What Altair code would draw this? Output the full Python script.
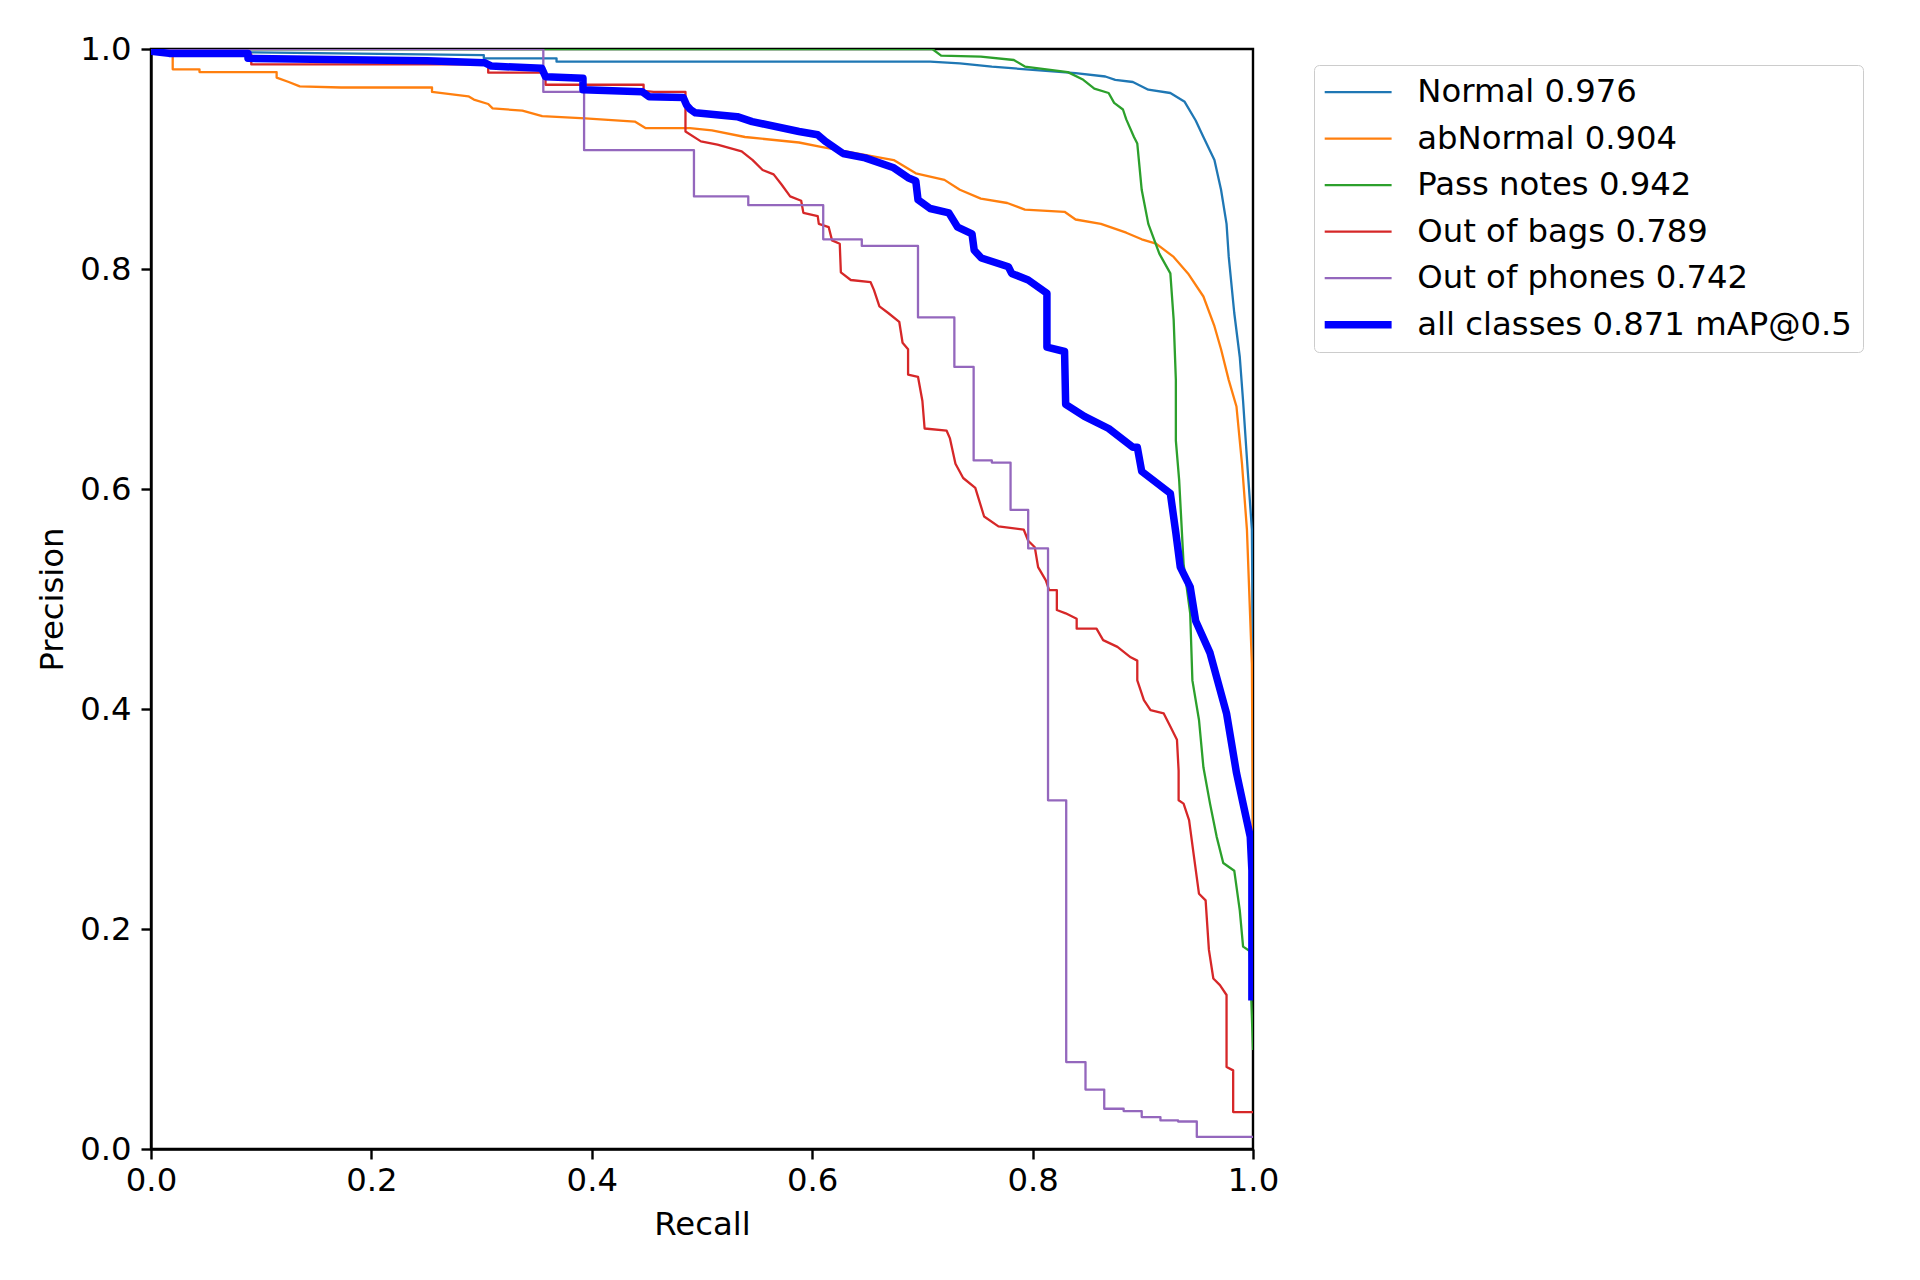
import altair as alt
import pandas as pd

labels = ["Normal 0.976", "abNormal 0.904", "Pass notes 0.942",
          "Out of bags 0.789", "Out of phones 0.742", "all classes 0.871 mAP@0.5"]
colors = ["#1f77b4", "#ff7f0e", "#2ca02c", "#d62728", "#9467bd", "#0000ff"]
x_ticks = [0.0, 0.2, 0.4, 0.6, 0.8, 1.0]
y_ticks = [0.0, 0.2, 0.4, 0.6, 0.8, 1.0]

normal_r = [0, 0.088, 0.302, 0.302, 0.368, 0.368, 0.707, 0.734, 0.763, 0.800, 0.839, 0.866, 0.875, 0.891,
            0.905, 0.925, 0.938, 0.948, 0.955, 0.965, 0.971, 0.976, 0.978, 0.983, 0.988, 0.991, 0.995, 0.999, 1.0]
normal_p = [1.0, 0.997, 0.9945, 0.9915, 0.9915, 0.9885, 0.9885, 0.987, 0.984, 0.981, 0.978, 0.975, 0.972, 0.970,
            0.963, 0.960, 0.952, 0.935, 0.920, 0.899, 0.872, 0.841, 0.811, 0.760, 0.720, 0.68, 0.62, 0.563, 0.43]

abnormal_r = [0, 0.0197, 0.0197, 0.044, 0.044, 0.114, 0.114, 0.125, 0.135, 0.1725,
              0.255, 0.255, 0.288, 0.293, 0.306, 0.310, 0.337, 0.355, 0.394, 0.439,
              0.449, 0.489, 0.509, 0.539, 0.588, 0.608, 0.674, 0.694, 0.720, 0.734,
              0.753, 0.777, 0.793, 0.829, 0.839, 0.862, 0.885, 0.899, 0.912, 0.928,
              0.941, 0.955, 0.965, 0.971, 0.978, 0.985, 0.990, 0.9945, 0.999, 1.0]
abnormal_p = [1.0, 1.0, 0.9815, 0.9815, 0.979, 0.979, 0.974, 0.970, 0.966, 0.965,
              0.965, 0.961, 0.957, 0.954, 0.950, 0.946, 0.944, 0.939, 0.937, 0.934,
              0.928, 0.928, 0.926, 0.920, 0.915, 0.911, 0.899, 0.887, 0.881, 0.872,
              0.864, 0.860, 0.854, 0.852, 0.845, 0.841, 0.833, 0.827, 0.823, 0.811,
              0.796, 0.775, 0.748, 0.727, 0.699, 0.675, 0.623, 0.563, 0.441, 0.27]

pass_r = [0, 0.709, 0.717, 0.753, 0.783, 0.793, 0.832, 0.846, 0.856, 0.869,
          0.874, 0.882, 0.885, 0.892, 0.895, 0.899, 0.905, 0.915, 0.925, 0.928,
          0.930, 0.930, 0.933, 0.937, 0.943, 0.945, 0.951, 0.955, 0.961, 0.967,
          0.973, 0.983, 0.988, 0.991, 0.997, 1.0]
pass_p = [1.0, 1.0, 0.994, 0.993, 0.990, 0.984, 0.979, 0.972, 0.964, 0.960,
          0.951, 0.945, 0.936, 0.920, 0.914, 0.872, 0.841, 0.814, 0.796, 0.754,
          0.699, 0.644, 0.608, 0.532, 0.487, 0.426, 0.390, 0.347, 0.314, 0.284,
          0.260, 0.253, 0.217, 0.184, 0.180, 0.09]

bags_r = [0, 0.091, 0.091, 0.306, 0.306, 0.358, 0.358, 0.447, 0.447, 0.456,
          0.485, 0.485, 0.499, 0.514, 0.536, 0.546, 0.555, 0.565, 0.572, 0.580,
          0.590, 0.592, 0.605, 0.606, 0.615, 0.618, 0.625, 0.626, 0.635, 0.653,
          0.656, 0.661, 0.669, 0.679, 0.682, 0.687, 0.687, 0.696, 0.700, 0.702,
          0.722, 0.725, 0.730, 0.737, 0.748, 0.756, 0.769, 0.792, 0.796, 0.802,
          0.805, 0.812, 0.815, 0.822, 0.822, 0.830, 0.840, 0.840, 0.858, 0.864,
          0.877, 0.889, 0.895, 0.895, 0.901, 0.907, 0.919, 0.925, 0.931, 0.9325,
          0.9325, 0.937, 0.942, 0.946, 0.951, 0.957, 0.960, 0.964, 0.970, 0.976,
          0.976, 0.982, 0.982, 1.0]
bags_p = [1.0, 0.995, 0.986, 0.986, 0.9785, 0.9785, 0.9675, 0.9675, 0.962, 0.961,
          0.961, 0.925, 0.916, 0.913, 0.907, 0.899, 0.890, 0.886, 0.877, 0.866,
          0.862, 0.851, 0.848, 0.841, 0.838, 0.826, 0.823, 0.797, 0.790, 0.788,
          0.781, 0.766, 0.760, 0.752, 0.733, 0.727, 0.704, 0.702, 0.680, 0.655,
          0.653, 0.646, 0.623, 0.610, 0.601, 0.575, 0.566, 0.563, 0.553, 0.547,
          0.529, 0.517, 0.508, 0.508, 0.490, 0.487, 0.482, 0.473, 0.473, 0.4626,
          0.4565, 0.447, 0.444, 0.426, 0.408, 0.399, 0.396, 0.384, 0.372, 0.344,
          0.317, 0.314, 0.299, 0.269, 0.232, 0.226, 0.181, 0.155, 0.149, 0.140,
          0.0745, 0.0715, 0.0336, 0.0336]

phones_r = [0, 0.356, 0.356, 0.393, 0.393, 0.4927, 0.4927, 0.542, 0.542, 0.610,
            0.610, 0.645, 0.645, 0.696, 0.696, 0.729, 0.729, 0.7465, 0.7465, 0.763,
            0.763, 0.780, 0.780, 0.796, 0.796, 0.814, 0.814, 0.8305, 0.8305, 0.848,
            0.848, 0.865, 0.865, 0.8826, 0.8826, 0.899, 0.899, 0.916, 0.916, 0.932,
            0.932, 0.949, 0.949, 1.0]
phones_p = [1.0, 1.0, 0.961, 0.961, 0.908, 0.908, 0.866, 0.866, 0.858, 0.858,
            0.827, 0.827, 0.821, 0.821, 0.756, 0.756, 0.711, 0.711, 0.626, 0.626,
            0.624, 0.624, 0.581, 0.581, 0.546, 0.546, 0.317, 0.317, 0.079, 0.079,
            0.054, 0.054, 0.0366, 0.0366, 0.0345, 0.0345, 0.029, 0.029, 0.026, 0.026,
            0.025, 0.025, 0.011, 0.011]

all_r = [0, 0.0164, 0.088, 0.088, 0.2505, 0.3026, 0.309, 0.3546, 0.358, 0.392,
         0.392, 0.4457, 0.452, 0.483, 0.486, 0.4895, 0.494, 0.532, 0.5455, 0.588,
         0.605, 0.612, 0.628, 0.648, 0.674, 0.687, 0.694, 0.696, 0.707, 0.724,
         0.732, 0.745, 0.747, 0.7535, 0.778, 0.781, 0.796, 0.813, 0.813, 0.829,
         0.830, 0.847, 0.869, 0.891, 0.895, 0.899, 0.925, 0.930, 0.934, 0.943,
         0.948, 0.961, 0.976, 0.985, 0.991, 0.9975, 0.999, 0.999]
all_p = [0.998, 0.996, 0.996, 0.9915, 0.9894, 0.9876, 0.9845, 0.9824, 0.9748, 0.9733,
         0.963, 0.9612, 0.9566, 0.956, 0.949, 0.945, 0.942, 0.9385, 0.934, 0.925,
         0.922, 0.916, 0.905, 0.901, 0.892, 0.883, 0.880, 0.863, 0.855, 0.851,
         0.838, 0.832, 0.817, 0.810, 0.802, 0.796, 0.790, 0.778, 0.729, 0.725,
         0.677, 0.666, 0.655, 0.638, 0.638, 0.616, 0.596, 0.56, 0.529, 0.511,
         0.48, 0.451, 0.396, 0.342, 0.314, 0.284, 0.253, 0.135]

recalls = [normal_r, abnormal_r, pass_r, bags_r, phones_r, all_r]
precisions = [normal_p, abnormal_p, pass_p, bags_p, phones_p, all_p]

rows = []
for lab, rr, pp in zip(labels, recalls, precisions):
    for i, (x, y) in enumerate(zip(rr, pp)):
        rows.append({"cls": lab, "recall": x, "precision": y, "i": i})
df = pd.DataFrame(rows)

FONT = "DejaVu Sans"
FS = 32.3
THIN = 2.3
THICK = 7.5

legend = alt.Legend(
    title=None, orient="none", legendX=1163, legendY=16,
    symbolType="M-1.46,0H1.46", symbolSize=2100, symbolOffset=17,
    labelOffset=43, labelFontSize=FS, labelFont=FONT, labelColor="black",
    labelLimit=1000, padding=11, rowPadding=13.5,
    strokeColor="#cccccc", fillColor="white", cornerRadius=5,
    symbolStrokeWidth=alt.ExprRef(
        expr="datum.value === '%s' ? %s : %s" % (labels[-1], THICK, THIN)),
)

x_enc = alt.X("recall:Q", scale=alt.Scale(domain=[0, 1], nice=False, zero=False),
              axis=alt.Axis(values=x_ticks, format=".1f", title="Recall",
                            labelPadding=5, titlePadding=12))
y_enc = alt.Y("precision:Q", scale=alt.Scale(domain=[0, 1], nice=False, zero=False),
              axis=alt.Axis(values=y_ticks, format=".1f", title="Precision",
                            labelPadding=10, titlePadding=10))
color = alt.Color("cls:N", scale=alt.Scale(domain=labels, range=colors), legend=legend)

classes = alt.Chart(df).transform_filter(alt.datum.cls != labels[-1]).mark_line(
    clip=True, strokeJoin="round", strokeWidth=THIN
).encode(x=x_enc, y=y_enc, color=color, order=alt.Order("i:Q"))

allc = alt.Chart(df).transform_filter(alt.datum.cls == labels[-1]).mark_line(
    clip=True, strokeJoin="round", strokeWidth=THICK
).encode(x=x_enc, y=y_enc, color=color, order=alt.Order("i:Q"))

chart = alt.layer(classes, allc).properties(
    width=1102, height=1100,
    padding={"left": 143, "top": 41, "right": 640, "bottom": 118},
    autosize="none", background="white",
).configure_axis(
    labelFont=FONT, titleFont=FONT, labelFontSize=FS, titleFontSize=FS,
    titleFontWeight="normal", labelColor="black", titleColor="black",
    domainColor="black", tickColor="black", domainWidth=2.4, tickWidth=2.4,
    tickSize=10, grid=False, labelFlush=False, labelOverlap=False,
).configure_view(stroke="black", strokeWidth=2.4)

chart.save("out.html", embed_options={"renderer": "svg", "actions": False})
